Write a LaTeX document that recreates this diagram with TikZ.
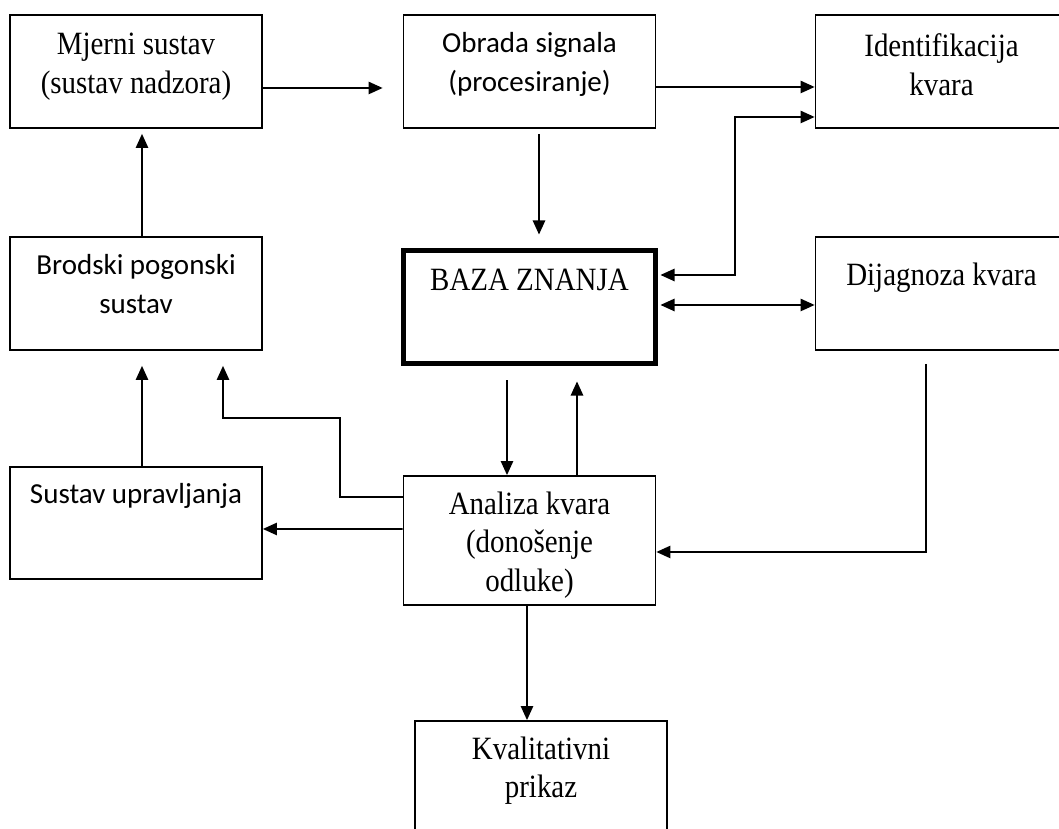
\documentclass[tikz,border=0pt]{standalone}
\usepackage{fontspec}
\setmainfont[FakeStretch=0.89]{Liberation Serif}
\newfontfamily\calibri{Carlito}
\usetikzlibrary{arrows.meta,calc,positioning}

\tikzset{
  box/.style={draw, line width=1pt, inner sep=0pt,
    minimum width=5.04cm, minimum height=2.26cm},
  bazabox/.style={box, line width=2.8pt},
  txt/.style={align=center, inner sep=0pt,
    font=\fontsize{18.5}{22}\selectfont},
  caltxt/.style={txt, font=\calibri\fontsize{16.5}{22}\selectfont},
  arr/.style={line width=1pt, -{Triangle[length=8pt,width=7pt]}},
  arrtwo/.style={line width=1pt, {Triangle[length=8pt,width=7pt]}-{Triangle[length=8pt,width=7pt]}}
}

\begin{document}
\begin{tikzpicture}
  \useasboundingbox (0,0) rectangle (21.18,16.58);
  \clip (0,0) rectangle (21.18,16.58);

  % Boxes
  \node[box] (mjerni) at (2.72,15.15) {};
  \node[box] (obrada) at (10.59,15.15) {};
  \node[box] (ident) at (18.83,15.15) {};
  \node[box] (brodski) at (2.72,10.71) {};
  \node[bazabox] (baza) at (10.59,10.44) {};
  \node[box] (dijagnoza) at (18.83,10.71) {};
  \node[box, minimum height=2.24cm] (sustav) at (2.72,6.12) {};
  \node[box, minimum height=2.58cm] (analiza) at (10.59,5.77) {};
  \node[box] (kval) at (10.82,1.03) {};

  % Texts
  \node[txt, below=0.38cm of mjerni.north] (mjernitxt) {Mjerni sustav\\(sustav nadzora)};
  \node[caltxt, below=0.36cm of obrada.north] (obradatxt) {Obrada signala\\(procesiranje)};
  \node[txt, below=0.38cm of ident.north] (identtxt) {Identifikacija\\kvara};
  \node[caltxt, below=0.36cm of brodski.north] (brodskitxt) {Brodski pogonski\\sustav};
  \node[txt, below=0.41cm of baza.north] (bazatxt) {BAZA ZNANJA};
  \node[txt, below=0.52cm of dijagnoza.north] (dijagnozatxt) {Dijagnoza kvara};
  \node[caltxt, below=0.34cm of sustav.north] (sustavtxt) {Sustav upravljanja};
  \node[txt, below=0.32cm of analiza.north] (analizatxt) {Analiza kvara\\(donošenje\\odluke)};
  \node[txt, below=0.32cm of kval.north] (kvaltxt) {Kvalitativni\\prikaz};

  % Signal path along the top
  \draw[arr, shorten >=0.4cm] ($(mjerni.east)+(0,-0.33)$) -- ($(obrada.west)+(0,-0.33)$);
  \draw[arr] ($(obrada.east)+(0,-0.31)$) -- ($(ident.west)+(0,-0.31)$);
  \draw[arr, shorten <=0.1cm, shorten >=0.27cm] ($(obrada.south)+(0.19,0)$) -- ($(baza.north)+(0.19,0)$);

  % Knowledge base links
  \coordinate (identbend) at (14.7,14.24);
  \draw[arrtwo, shorten <=0.05cm] ($(baza.east)+(0,0.64)$) -| (identbend) -- ($(ident.west)+(0,-0.91)$);
  \draw[arrtwo, shorten <=0.05cm] ($(baza.east)+(0,0.04)$) -- ($(dijagnoza.west)+(0,-0.23)$);
  \draw[arr, shorten <=0.29cm] ($(baza.south)+(-0.45,0)$) -- ($(analiza.north)+(-0.45,0)$);
  \draw[arr, shorten >=0.31cm] ($(analiza.north)+(0.95,0)$) -- ($(baza.south)+(0.95,0)$);

  % Left column
  \draw[arr, shorten >=0.1cm] ($(brodski.north)+(0.12,0)$) -- ($(mjerni.south)+(0.12,0)$);
  \draw[arr, shorten >=0.3cm] ($(sustav.north)+(0.12,0)$) -- ($(brodski.south)+(0.12,0)$);
  \coordinate (elbow) at (6.8,8.22);
  \draw[arr, shorten >=0.3cm] ($(analiza.west)+(0,0.87)$) -| (elbow) -| ($(brodski.south)+(1.74,0)$);
  \draw[arr] ($(analiza.west)+(0,0.23)$) -- ($(sustav.east)+(0,-0.12)$);

  % Diagnosis back to analysis, then output
  \draw[arr, shorten <=0.26cm] ($(dijagnoza.south)+(-0.31,0)$) |- ($(analiza.east)+(0,-0.23)$);
  \draw[arr] ($(analiza.south)+(-0.05,0)$) -- ($(kval.north)+(-0.28,0)$);
\end{tikzpicture}
\end{document}
